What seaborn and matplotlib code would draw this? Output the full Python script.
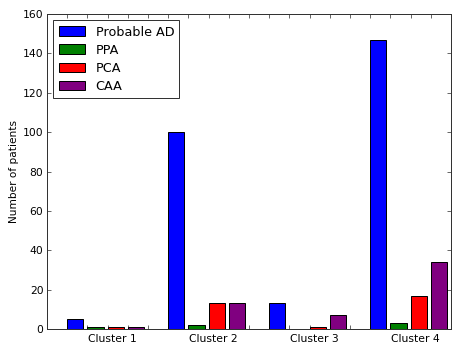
import pandas as pd
import matplotlib
matplotlib.use("Agg")
import matplotlib.pyplot as plt
import seaborn as sns

# values
clusters = ["Cluster 1", "Cluster 2", "Cluster 3", "Cluster 4"]
groups = ["Probable AD", "PPA", "PCA", "CAA"]
probable_ad = [5, 100, 13, 147]
ppa = [1, 2, 0, 3]
pca = [1, 13, 1, 17]
caa = [1, 13, 7, 34]
colors = ["blue", "green", "red", "purple"]

# long table, one row per bar
rows = []
for g, series in enumerate([probable_ad, ppa, pca, caa]):
    for c, val in enumerate(series):
        rows.append({"pos": 5 * c + g + 1.4, "group": groups[g], "count": val})
df = pd.DataFrame(rows)

sns.set_style("ticks", {"text.color": "black", "axes.labelcolor": "black",
                        "xtick.color": "black", "ytick.color": "black"})
plt.rcParams["font.family"] = ["DejaVu Sans"]

fig, ax = plt.subplots(figsize=(452 / 72, 348 / 72), dpi=72)
fig.subplots_adjust(left=47 / 452, right=451 / 452, top=1 - 14 / 348, bottom=1 - 329 / 348)

sns.barplot(data=df, x="pos", y="count", hue="group", hue_order=groups,
            palette=dict(zip(groups, colors)), native_scale=True, dodge=False,
            saturation=1, edgecolor="black", linewidth=1, ax=ax)

ax.set_xlim(0, 20)
ax.set_ylim(0, 160)
ax.set_yticks(range(0, 161, 20))
ax.set_xticks(range(0, 21))
ax.set_xticklabels([])
ax.set_xticks([5 * c + 3.25 for c in range(4)], minor=True)
ax.set_xticklabels(clusters, minor=True)
ax.tick_params(axis="x", which="minor", length=0, pad=5, labelsize=10.7)
ax.tick_params(axis="both", which="major", direction="in", length=4, width=0.8,
               top=True, right=True, labelsize=10.7, color="#444444")
ax.set_xlabel("")
ax.set_ylabel("Number of patients", fontsize=10.5)

for sp in ax.spines.values():
    sp.set_visible(True)
    sp.set_color("#333333")
    sp.set_linewidth(1)

handles, labels = ax.get_legend_handles_labels()
leg = ax.legend(handles, labels, loc="upper left", fontsize=12.8, frameon=True,
                fancybox=False, handlelength=2.1, handleheight=0.75, borderpad=0.4,
                labelspacing=0.4, handletextpad=0.8)
leg.get_frame().set_edgecolor("black")
leg.get_frame().set_linewidth(1)

fig.savefig("out.png", dpi=72, facecolor="white")
